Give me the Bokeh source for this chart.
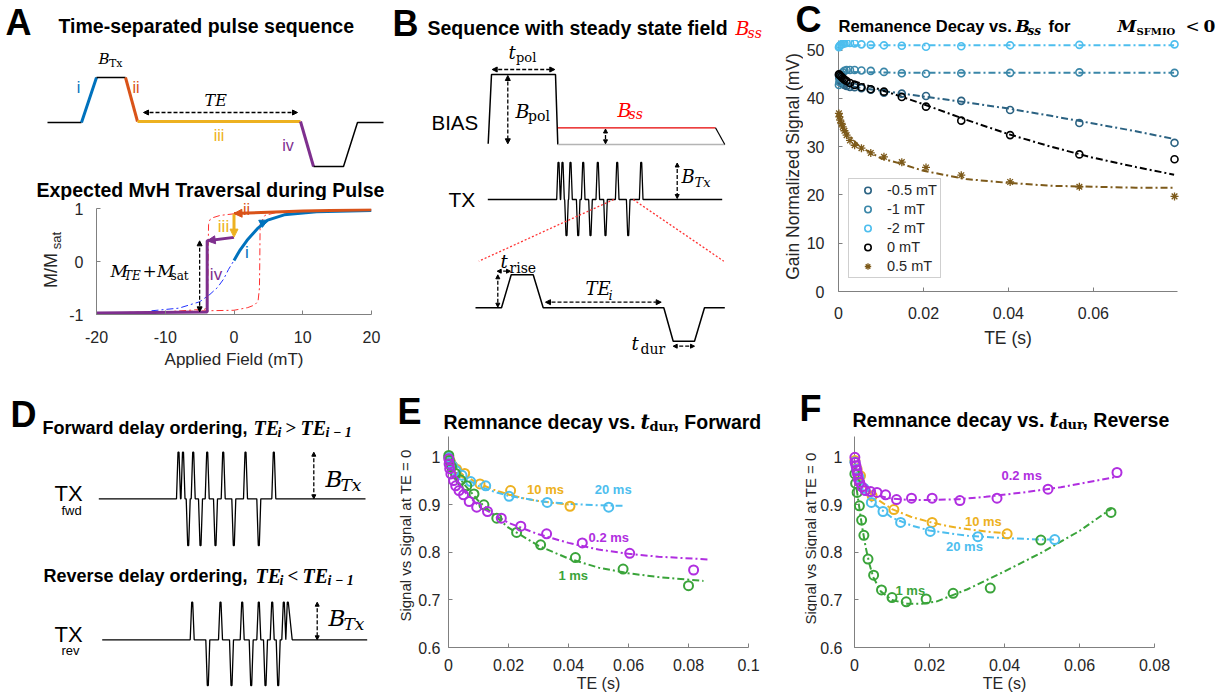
import math
from bokeh.plotting import figure
from bokeh.models import (Range1d, Label, Arrow, NormalHead, FixedTicker,
                          CustomJSTickFormatter, Legend, LegendItem)
from bokeh.layouts import row, column
from bokeh.embed import file_html
from bokeh.resources import INLINE
from bokeh.core.properties import value

SANS = "Liberation Sans"
SERIF = "DejaVu Serif"
TSERIF = "Liberation Serif"

# ---------------- data: panel A (MvH traversal) ----------------
loop_h = [-20, -10, -4, 0, 2, 3, 3.5, 3.7, 3.75, 3.8, 4.5, 6, 10, 20,
          10, 2, 0, -2, -3, -3.5, -3.7, -3.75, -3.8, -3.85, -4.2, -10, -20]
loop_m = [-0.97, -0.95, -0.93, -0.92, -0.87, -0.82, -0.75, -0.5, 0.0, 0.7, 0.87, 0.92, 0.95, 0.97,
          0.95, 0.91, 0.90, 0.87, 0.83, 0.79, 0.7, 0.3, -0.3, -0.8, -0.9, -0.95, -0.97]
anh_h = [-12, -8, -5, -3.5, -2.4, -1.5, -0.8, 0]
anh_m = [-0.93, -0.88, -0.76, -0.62, -0.49, -0.33, -0.15, 0.02]
seg_i_h = [0, 0.8, 1.9, 3.4, 4.9, 7.3, 12, 20]
seg_i_m = [0.02, 0.2, 0.4, 0.62, 0.78, 0.88, 0.94, 0.96]
seg_ii_h = [20, 10, 5, 2, 0]
seg_ii_m = [0.975, 0.955, 0.93, 0.915, 0.905]
seg_iii_h = [0, 0]
seg_iii_m = [0.9, 0.46]
seg_iv_h = [0, -3.9, -3.9, -20]
seg_iv_m = [0.455, 0.39, -0.955, -0.97]

# ---------------- data: panel C ----------------
te_c = [0.0001, 0.0002, 0.0004, 0.0007, 0.001, 0.0014, 0.0019, 0.0027, 0.0038,
        0.0054, 0.0076, 0.0107, 0.0149, 0.0206, 0.0289, 0.0404, 0.0567, 0.0791]
c_m05 = [44.8, 44.2, 43.7, 43.3, 43.0, 42.8, 42.6, 42.4, 42.3, 42.1, 41.8, 41.2, 41.0, 40.5, 39.5, 37.6, 34.9, 30.8]
c_m1 = [42.8, 43.4, 44.2, 44.9, 45.4, 45.7, 45.9, 45.9, 45.9, 45.8, 45.7, 45.5, 45.2, 45.1, 45.2, 45.3, 45.4, 45.3]
c_m2 = [50.6, 50.8, 51.0, 51.2, 51.3, 51.4, 51.5, 51.5, 51.4, 51.2, 51.1, 51.0, 50.9, 50.7, 50.8, 51.0, 51.1, 51.2]
c_0 = [45.0, 44.9, 44.7, 44.5, 44.2, 43.9, 43.6, 43.2, 42.8, 42.3, 41.9, 41.4, 40.3, 38.3, 35.4, 32.4, 28.4, 27.4]
c_p05 = [36.9, 36.2, 35.5, 34.8, 34.1, 33.3, 32.4, 31.3, 30.3, 29.7, 28.7, 27.9, 26.8, 25.7, 24.1, 22.7, 21.7, 19.7]
c_labels = ["-0.5 mT", "-1 mT", "-2 mT", "0 mT", "0.5 mT"]
fit_c_x = [0, 0.002, 0.005, 0.01, 0.015, 0.02, 0.03, 0.04, 0.05, 0.06, 0.07, 0.079]
fit_c_m05 = [42.8, 42.6, 42.2, 41.6, 41.0, 40.4, 39.2, 37.9, 36.4, 34.8, 33.2, 31.6]
fit_c_m1 = [45.5, 45.5, 45.4, 45.4, 45.3, 45.3, 45.3, 45.3, 45.3, 45.3, 45.3, 45.3]
fit_c_m2 = [51.0, 51.0, 51.0, 51.0, 51.0, 51.0, 51.0, 51.0, 51.0, 51.0, 51.0, 51.0]
fit_c_0 = [44.4, 43.9, 43.2, 41.8, 40.3, 38.8, 35.6, 32.6, 30.0, 27.7, 25.8, 24.2]
fit_c_p05 = [36.5, 32.8, 30.0, 27.6, 26.4, 25.0, 23.3, 22.5, 21.9, 21.7, 21.5, 21.5]

# ---------------- data: panel E (forward) ----------------
e10_x = [0.0001, 0.0003, 0.0007, 0.0014, 0.0027, 0.0054, 0.0105, 0.0207, 0.0405]
e10_y = [1.0, 0.995, 0.99, 0.982, 0.975, 0.966, 0.944, 0.930, 0.897]
e20_x = [0.0001, 0.0005, 0.0013, 0.0025, 0.0045, 0.0074, 0.0124, 0.0202, 0.0329, 0.0534]
e20_y = [1.0, 0.99, 0.982, 0.972, 0.962, 0.949, 0.940, 0.918, 0.905, 0.895]
e1_x = [0.0001, 0.0003, 0.001, 0.0023, 0.0041, 0.0061, 0.0085, 0.0118, 0.0161, 0.0227, 0.0307, 0.0423, 0.0582, 0.0800]
e1_y = [1.004, 0.993, 0.98, 0.966, 0.952, 0.940, 0.923, 0.900, 0.872, 0.842, 0.816, 0.789, 0.765, 0.730]
e02_x = [0.0001, 0.0002, 0.0004, 0.0008, 0.0017, 0.0024, 0.0035, 0.0050, 0.0069, 0.0094, 0.0130, 0.0176,
         0.0241, 0.0327, 0.0446, 0.0604, 0.0817]
e02_y = [0.997, 0.986, 0.976, 0.965, 0.951, 0.940, 0.930, 0.921, 0.907, 0.895, 0.886, 0.872,
         0.855, 0.839, 0.820, 0.798, 0.763]
efit10_x = [0, 0.002, 0.005, 0.01, 0.015, 0.02, 0.025, 0.03, 0.035, 0.041]
efit10_y = [0.995, 0.978, 0.962, 0.945, 0.932, 0.922, 0.914, 0.908, 0.904, 0.900]
efit20_x = [0, 0.002, 0.005, 0.01, 0.015, 0.02, 0.03, 0.04, 0.05, 0.058]
efit20_y = [0.995, 0.975, 0.958, 0.940, 0.928, 0.919, 0.908, 0.902, 0.899, 0.898]
efit1_x = [0, 0.002, 0.005, 0.01, 0.02, 0.03, 0.04, 0.05, 0.06, 0.07, 0.085]
efit1_y = [0.995, 0.972, 0.945, 0.908, 0.852, 0.814, 0.787, 0.768, 0.756, 0.748, 0.740]
efit02_x = [0, 0.002, 0.005, 0.01, 0.02, 0.03, 0.04, 0.05, 0.06, 0.07, 0.087]
efit02_y = [0.99, 0.955, 0.93, 0.898, 0.862, 0.838, 0.820, 0.806, 0.797, 0.791, 0.785]

# ---------------- data: panel F (reverse) ----------------
f02_x = [0.0001, 0.0002, 0.0004, 0.0006, 0.0008, 0.001, 0.0014, 0.002, 0.0029, 0.0043, 0.006, 0.0083,
         0.0112, 0.0152, 0.0207, 0.0281, 0.038, 0.0516, 0.070]
f02_y = [1.0, 0.989, 0.982, 0.973, 0.965, 0.954, 0.947, 0.938, 0.930, 0.928, 0.926, 0.921,
         0.911, 0.914, 0.914, 0.909, 0.914, 0.933, 0.968]
f10_x = [0.0001, 0.0007, 0.0016, 0.0047, 0.0105, 0.0207, 0.0407]
f10_y = [0.993, 0.975, 0.961, 0.919, 0.890, 0.863, 0.839]
f20_x = [0.0001, 0.0005, 0.0012, 0.0025, 0.0045, 0.0076, 0.0123, 0.0202, 0.0329, 0.0534]
f20_y = [0.99, 0.975, 0.958, 0.935, 0.905, 0.886, 0.863, 0.844, 0.833, 0.827]
f1_x = [0.0001, 0.0003, 0.0007, 0.0013, 0.0019, 0.0025, 0.0036, 0.0051, 0.0072, 0.0100, 0.0138, 0.0191,
        0.0263, 0.0362, 0.0497, 0.0684]
f1_y = [0.965, 0.945, 0.926, 0.898, 0.868, 0.836, 0.786, 0.752, 0.721, 0.705, 0.696, 0.702,
        0.714, 0.725, 0.826, 0.884]
ffit02_x = [0, 0.001, 0.002, 0.004, 0.007, 0.01, 0.015, 0.02, 0.028, 0.035, 0.045, 0.055, 0.07]
ffit02_y = [0.99, 0.955, 0.94, 0.928, 0.918, 0.913, 0.910, 0.910, 0.912, 0.917, 0.926, 0.937, 0.959]
ffit10_x = [0, 0.002, 0.005, 0.01, 0.015, 0.02, 0.025, 0.03, 0.035, 0.0405]
ffit10_y = [0.985, 0.945, 0.917, 0.891, 0.875, 0.864, 0.855, 0.849, 0.844, 0.840]
ffit20_x = [0, 0.002, 0.005, 0.01, 0.015, 0.02, 0.03, 0.04, 0.05, 0.0535]
ffit20_y = [0.985, 0.935, 0.903, 0.873, 0.857, 0.846, 0.835, 0.830, 0.827, 0.827]
ffit1_x = [0, 0.001, 0.002, 0.003, 0.004, 0.005, 0.007, 0.01, 0.014, 0.018, 0.022, 0.03, 0.04, 0.05, 0.06, 0.0685]
ffit1_y = [0.965, 0.91, 0.855, 0.81, 0.775, 0.748, 0.718, 0.700, 0.692, 0.692, 0.697, 0.722, 0.760, 0.800, 0.845, 0.892]

# ---------------- colours ----------------
BLUE, ORANGE, YELLOW, PURPLE = "#0072BD", "#D95319", "#EDB120", "#7E2F8E"
LBLUE, GREEN, MAG = "#4DBEEE", "#3aa43a", "#b02ee0"
C_COL = ["#2b6282", "#3a86a8", "#4DBEEE", "#000000", "#7d5a1a"]
AXC, TXC = "#808080", "#262626"
DASHDOT = "7 3 2 3"


def lab(p, x, y, s, size, color="black", font=SANS, style="normal", align="left", angle=0.0):
    p.add_layout(Label(x=x, y=y, text=s, text_font=font, text_font_size=f"{size}px",
                       text_font_style=style, text_color=color, text_align=align,
                       text_baseline="middle", angle=angle))


def arrow(p, x0, y0, x1, y1, both=True, dash="4 2", width=1.3, color="black", size=5):
    hd = lambda: NormalHead(size=size, fill_color=color, line_color=color, line_width=1)
    p.add_layout(Arrow(x_start=x0, y_start=y0, x_end=x1, y_end=y1,
                       start=hd() if both else None, end=hd(),
                       line_color=color, line_width=width, line_dash=dash))


def schem(ox, oy, w, h):
    """text / sketch canvas whose coordinates are page pixels"""
    p = figure(width=w, height=h, x_range=Range1d(ox, ox + w), y_range=Range1d(oy + h, oy),
               min_border=0, x_axis_location=None, y_axis_location=None, title=None,
               frame_align=False, outline_line_color=None, output_backend="svg",
               toolbar_location=None)
    p.grid.visible = False
    return p


class DF:
    def __init__(self, ox, oy, w, h, l, t, r, b, xr, yr, xticks, yticks, xstand, ystand,
                 xlabel, xlsize, xlstand):
        self.ox, self.oy, self.l, self.t, self.r, self.b, self.xr, self.yr = ox, oy, l, t, r, b, xr, yr
        p = figure(width=w, height=h, x_range=Range1d(*xr), y_range=Range1d(*yr), title=None,
                   min_border_left=l, min_border_top=t, min_border_right=w - r, min_border_bottom=h - b,
                   frame_align=False, outline_line_color=None, output_backend="svg",
                   toolbar_location=None)
        p.grid.visible = False
        fmt = "return (Math.round(tick*1e6)/1e6).toString();"
        p.xaxis.ticker = FixedTicker(ticks=xticks)
        p.yaxis.ticker = FixedTicker(ticks=yticks)
        for ax in (p.xaxis[0], p.yaxis[0]):
            ax.formatter = CustomJSTickFormatter(code=fmt)
            ax.axis_line_color = AXC
            ax.major_tick_line_color = AXC
            ax.major_tick_in = 4
            ax.major_tick_out = 0
            ax.minor_tick_line_color = None
            ax.major_label_text_font = SANS
            ax.major_label_text_font_size = "16px"
            ax.major_label_text_color = TXC
        p.xaxis[0].major_label_standoff = xstand
        p.yaxis[0].major_label_standoff = ystand
        xa = p.xaxis[0]
        xa.axis_label = xlabel
        xa.axis_label_text_font = SANS
        xa.axis_label_text_font_style = "normal"
        xa.axis_label_text_font_size = f"{xlsize}px"
        xa.axis_label_text_color = TXC
        xa.axis_label_standoff = xlstand
        self.p = p

    def d(self, rx, ry):
        x0, x1 = self.xr
        y0, y1 = self.yr
        x = x0 + (rx - self.ox - self.l) / (self.r - self.l) * (x1 - x0)
        y = y0 + (self.oy + self.b - ry) / (self.b - self.t) * (y1 - y0)
        return x, y

    def lab(self, rx, ry, s, size, **kw):
        x, y = self.d(rx, ry)
        lab(self.p, x, y, s, size, **kw)


def pulses(x0, x1, base, events):
    xs, ys = [x0], [base]
    for (xc, yt, hl, hr) in events:
        xs += [xc - hl, xc - 0.5, xc + 0.5, xc + hr]
        ys += [base, yt, yt, base]
    xs.append(x1)
    ys.append(base)
    return xs, ys


# =============== Panel A top (schematic + title of the MvH plot) ===============
pa = schem(0, 0, 393, 200)
lab(pa, 5, 22, "A", 36, style="bold")
lab(pa, 58, 25, "Time-separated pulse sequence", 19.5, style="bold")
pa.line([47, 81], [122, 122], color="black", line_width=1.5)
pa.line([81, 96], [122, 77], color=BLUE, line_width=3)
pa.line([96, 125], [77, 77], color="black", line_width=1.5)
pa.line([125, 137], [77, 121], color=ORANGE, line_width=3)
pa.line([137, 300], [121, 121], color=YELLOW, line_width=3)
pa.line([300, 313], [121, 166], color=PURPLE, line_width=3)
pa.line([313, 343, 357, 383], [166, 166, 122, 122], color="black", line_width=1.5)
arrow(pa, 143, 112, 297, 112)
lab(pa, 98, 58, "B", 15, font=SERIF, style="italic")
lab(pa, 108.5, 63, "Tx", 11, font=SERIF)
lab(pa, 204, 100, "TE", 16, font=SERIF, style="italic")
lab(pa, 78, 87, "i", 16, color=BLUE, align="center")
lab(pa, 135.5, 87, "ii", 16, color=ORANGE, align="center")
lab(pa, 218.5, 135, "iii", 16, color=YELLOW, align="center")
lab(pa, 287.5, 145, "iv", 16, color=PURPLE, align="center")
lab(pa, 36, 189, "Expected MvH Traversal during Pulse", 19.5, style="bold")

# y label of the MvH plot
pay = schem(0, 200, 64, 175)
lab(pay, 50, 270, "M/M", 18, color=TXC, align="center", angle=math.pi / 2)
lab(pay, 56, 240, "sat", 13, color=TXC, align="center", angle=math.pi / 2)

# =============== Panel A bottom (MvH) ===============
A = DF(64, 200, 329, 175, 32, 8, 307, 114, (-20, 20), (-1, 1),
       [-20, -10, 0, 10, 20], [-1, 0, 1], 16, 13, "Applied Field (mT)", 17, 4)
pb = A.p
pb.line(loop_h, loop_m, color="#ff3030", line_width=1, line_dash=DASHDOT)
pb.line(anh_h, anh_m, color="#2030ff", line_width=1, line_dash=DASHDOT)
pb.line(seg_i_h, seg_i_m, color=BLUE, line_width=3)
pb.line(seg_ii_h, seg_ii_m, color=ORANGE, line_width=3)
pb.line(seg_iv_h, seg_iv_m, color=PURPLE, line_width=3)
arrow(pb, seg_iii_h[0], seg_iii_m[0], seg_iii_h[1], seg_iii_m[1], both=False, dash="solid",
      width=3, color=YELLOW, size=8)
arrow(pb, 4.3, 0.74, 4.9, 0.78, both=False, dash="solid", width=0.1, color=BLUE, size=8)
arrow(pb, 0.6, 0.908, 0.0, 0.905, both=False, dash="solid", width=0.1, color=ORANGE, size=8)
arrow(pb, -3.3, 0.40, -3.9, 0.39, both=False, dash="solid", width=0.1, color=PURPLE, size=8)
arrow(pb, -5.0, -0.95, -5.0, 0.39)
A.lab(110, 270, "M", 17, font=SERIF, style="italic")
A.lab(123.5, 275, "TE", 12, font=SERIF, style="italic")
A.lab(142, 270, "+", 17, font=SERIF)
A.lab(156.5, 270, "M", 17, font=SERIF, style="italic")
A.lab(170, 275, "sat", 12, font=SERIF)
A.lab(246.5, 252, "i", 17, color=BLUE, align="center")
A.lab(223, 226, "iii", 17, color=YELLOW, align="center")
A.lab(215.5, 273.5, "iv", 17, color=PURPLE, align="center")
iix, iiy = A.d(246, 209)
pb.text(x=[iix], y=[iiy], text=["ii"], text_font=value(SANS), text_font_size="16px",
        text_color=ORANGE, text_align="center", text_baseline="middle", level="overlay")

# =============== Panel D (schematic) ===============
pdd = schem(0, 375, 393, 323)
lab(pdd, 10, 414, "D", 36, style="bold")
lab(pdd, 42, 427, "Forward delay ordering,", 18, style="bold")
lab(pdd, 253, 427, "TE", 20, font=TSERIF, style="bold italic")
lab(pdd, 277, 432, "i", 14, font=TSERIF, style="bold italic")
lab(pdd, 285, 427, ">", 19, font=TSERIF, style="bold")
lab(pdd, 300, 427, "TE", 20, font=TSERIF, style="bold italic")
lab(pdd, 325, 432, "i − 1", 14, font=TSERIF, style="bold italic")
fwd_pos = [178, 182.5, 192.7, 206.7, 222.7, 245, 273.3]
fwd_neg = [187.7, 200, 215, 233.3, 258.3]
ev = sorted([(x, 451.7, 2.0, 2.0) for x in fwd_pos] + [(x, 545, 2.0, 2.0) for x in fwd_neg])
xs, ys = pulses(98.3, 365, 498.3, ev)
pdd.line(xs, ys, color="black", line_width=1.3)
arrow(pdd, 313.3, 451.7, 313.3, 498.3, size=4)
lab(pdd, 325, 478.5, "B", 23, font=SERIF, style="italic")
lab(pdd, 340, 484, "Tx", 17, font=SERIF, style="italic")
lab(pdd, 54, 493, "TX", 22)
lab(pdd, 61, 510, "fwd", 13)
lab(pdd, 43, 575, "Reverse delay ordering,", 18, style="bold")
lab(pdd, 255, 575, "TE", 20, font=TSERIF, style="bold italic")
lab(pdd, 279, 580, "i", 14, font=TSERIF, style="bold italic")
lab(pdd, 287, 575, "<", 19, font=TSERIF, style="bold")
lab(pdd, 302, 575, "TE", 20, font=TSERIF, style="bold italic")
lab(pdd, 327, 580, "i − 1", 14, font=TSERIF, style="bold italic")
rev_pos = [191.7, 220, 241.7, 258.3, 271.7, 283.3, 287.3]
rev_neg = [207.3, 231, 250.7, 265, 277.7]
ev = sorted([(x, 601.7, 2.0, 2.0) for x in rev_pos[:-1]] + [(rev_pos[-1], 601.7, 2.0, 4.4)]
            + [(x, 685, 2.0, 2.0) for x in rev_neg])
xs, ys = pulses(101.7, 366.7, 639.3, ev)
pdd.line(xs, ys, color="black", line_width=1.3)
arrow(pdd, 316.7, 601.7, 316.7, 639.3, size=4)
lab(pdd, 328, 617.5, "B", 23, font=SERIF, style="italic")
lab(pdd, 343, 623, "Tx", 17, font=SERIF, style="italic")
lab(pdd, 54, 634, "TX", 22)
lab(pdd, 61, 650, "rev", 13)

# =============== Panel B (schematic, plus title of E) ===============
pB = schem(393, 0, 377, 436)
lab(pB, 392, 23, "B", 36, style="bold")
lab(pB, 427, 27, "Sequence with steady state field", 19.5, style="bold")
lab(pB, 735, 27, "B", 19, font=SERIF, style="italic", color="#ff0000")
lab(pB, 747, 32, "ss", 14, font=SERIF, style="italic", color="#ff0000")
pB.line([487.7, 491, 555, 557.3], [143.3, 74, 74, 144], color="black", line_width=1.5)
pB.line([557.3, 724.3], [144, 144], color="#b4b4b4", line_width=1.5)
pB.line([557.3, 715], [127.3, 127.3], color="#e60000", line_width=1.2)
pB.line([715, 724.3], [127.3, 144], color="black", line_width=1.2)
arrow(pB, 491.7, 69, 554.3, 69)
arrow(pB, 507.3, 75, 507.3, 143.3)
arrow(pB, 605, 128.5, 605, 143.3, size=4)
lab(pB, 508, 52, "t", 18, font=SERIF, style="italic")
lab(pB, 515.5, 57, "pol", 13, font=SERIF)
lab(pB, 515, 110, "B", 19, font=SERIF, style="italic")
lab(pB, 527.5, 115, "pol", 14, font=SERIF)
lab(pB, 617, 109, "B", 19, font=SERIF, style="italic", color="#ff0000")
lab(pB, 628, 113.5, "ss", 14, font=SERIF, style="italic", color="#ff0000")
lab(pB, 431, 121.7, "BIAS", 20.5)
lab(pB, 448, 199, "TX", 21)
tx_pos = [558, 562, 570, 582.7, 597.3, 616.7, 640.7]
tx_neg = [566, 577.7, 590, 605, 627.7]
ev = sorted([(x, 162, 1.8, 1.8) for x in tx_pos] + [(x, 235, 1.8, 1.8) for x in tx_neg])
xs, ys = pulses(487.3, 721.7, 199, ev)
pB.line(xs, ys, color="black", line_width=1.3)
arrow(pB, 676.7, 162.5, 676.7, 198, size=4)
lab(pB, 681, 176, "B", 18, font=SERIF, style="italic")
lab(pB, 694, 182, "Tx", 13, font=SERIF, style="italic")
pB.line([613.3, 478.3], [199, 260.7], color="#ff3333", line_width=1.3, line_dash="2 2")
pB.line([632.7, 723.3], [199, 260.7], color="#ff3333", line_width=1.3, line_dash="2 2")
pB.line([475, 501, 510.7, 532.7, 542.7, 663.3, 672.7, 694, 704, 724.3],
        [307.3, 307.3, 274.3, 274.3, 307.3, 307.3, 340.7, 340.7, 307.3, 307.3],
        color="black", line_width=1.5)
arrow(pB, 496.7, 270.7, 510, 270.7, size=4)
arrow(pB, 497.3, 274.3, 497.3, 306.7, size=4)
arrow(pB, 545, 301.7, 660.7, 301.7)
arrow(pB, 672.7, 345.7, 694, 345.7, size=4)
lab(pB, 500, 261, "t", 18, font=SERIF, style="italic")
lab(pB, 509, 267, "rise", 14, font=SERIF)
lab(pB, 585, 287.5, "TE", 18, font=SERIF, style="italic")
lab(pB, 608, 295, "i", 13, font=SERIF, style="italic")
lab(pB, 631, 343, "t", 18, font=SERIF, style="italic")
lab(pB, 640, 348, "dur", 14, font=SERIF)
# title of E
lab(pB, 397, 410.5, "E", 36, style="bold")
lab(pB, 443, 421, "Remnance decay vs.", 19.5, style="bold")
lab(pB, 640, 421, "t", 20, font=SERIF, style="bold italic")
lab(pB, 649, 426, "dur", 13, font=SERIF, style="bold")
lab(pB, 673, 421, ", Forward", 19.5, style="bold")

# =============== Panel E ===============
pey = schem(393, 436, 22, 262)
lab(pey, 405, 535, "Signal vs Signal at TE = 0", 15, color=TXC, align="center", angle=math.pi / 2)
E = DF(415, 436, 355, 262, 33, 0, 333, 211, (0, 0.1), (0.6, 1.0437),
       [0, 0.02, 0.04, 0.06, 0.08, 0.1], [0.6, 0.7, 0.8, 0.9, 1.0], 11, 8, "TE (s)", 16, 1)
pe = E.p
for fx, fy, sx, sy, col in [(efit10_x, efit10_y, e10_x, e10_y, YELLOW),
                            (efit20_x, efit20_y, e20_x, e20_y, LBLUE),
                            (efit1_x, efit1_y, e1_x, e1_y, GREEN),
                            (efit02_x, efit02_y, e02_x, e02_y, MAG)]:
    pe.line(fx, fy, color=col, line_width=2, line_dash=DASHDOT)
    pe.scatter(sx, sy, marker="circle", size=9, fill_color=None, line_color=col, line_width=2,
               level="overlay")
E.lab(545, 489.3, "10 ms", 13, color=YELLOW, style="bold", align="center")
E.lab(612.7, 489.3, "20 ms", 13, color=LBLUE, style="bold", align="center")
E.lab(608.3, 537.3, "0.2 ms", 13, color=MAG, style="bold", align="center")
E.lab(572.7, 575, "1 ms", 13, color=GREEN, style="bold", align="center")

# =============== Panel C ===============
pct = schem(770, 0, 454, 40)
lab(pct, 795, 19, "C", 36, style="bold")
lab(pct, 838, 25, "Remanence Decay vs.", 16.5, style="bold")
lab(pct, 1015, 25, "B", 17, font=SERIF, style="bold italic")
lab(pct, 1027, 30, "ss", 12, font=SERIF, style="bold italic")
lab(pct, 1048, 25, "for", 16.5, style="bold")
lab(pct, 1117, 25, "M", 17, font=SERIF, style="bold italic")
lab(pct, 1136, 31, "SFMIO", 10, font=SERIF, style="bold")
lab(pct, 1185, 25, "<", 17, font=SERIF)
lab(pct, 1203, 25, "0", 17, font=SERIF, style="bold")
pcy = schem(770, 40, 33, 310)
lab(pcy, 792, 166, "Gain Normalized Signal (mV)", 17.5, color=TXC, align="center", angle=math.pi / 2)
C = DF(803, 40, 421, 310, 35, 0, 374, 251, (0, 0.0798), (0, 52),
       [0, 0.02, 0.04, 0.06], [0, 10, 20, 30, 40, 50], 15, 14, "TE (s)", 17.5, 6)
pc = C.p
items = []
for fy, sy, col, name in [(fit_c_m05, c_m05, C_COL[0], c_labels[0]),
                          (fit_c_m1, c_m1, C_COL[1], c_labels[1]),
                          (fit_c_m2, c_m2, C_COL[2], c_labels[2]),
                          (fit_c_0, c_0, C_COL[3], c_labels[3]),
                          (fit_c_p05, c_p05, C_COL[4], c_labels[4])]:
    pc.line(fit_c_x, fy, color=col, line_width=2, line_dash=DASHDOT)
    if name == "0.5 mT":
        r = pc.scatter(te_c, sy, marker="asterisk", size=8, line_color=col, line_width=1.3,
                       level="overlay")
    else:
        r = pc.scatter(te_c, sy, marker="circle", size=7, fill_color=None, line_color=col,
                       line_width=1.6, level="overlay")
    items.append(LegendItem(label=name, renderers=[r]))
leg = Legend(items=items, location=(10, 13), padding=3, spacing=3, glyph_width=31, glyph_height=16,
             label_height=16, label_standoff=4, label_text_font=SANS, label_text_font_size="14.5px",
             label_text_color=TXC, border_line_color="#a0a0a0", margin=0, background_fill_alpha=1)
pc.add_layout(leg)

# =============== Panel F ===============
pft = schem(770, 350, 454, 86)
lab(pft, 799, 408, "F", 36, style="bold")
lab(pft, 852, 419, "Remnance decay vs.", 19.5, style="bold")
lab(pft, 1049, 419, "t", 20, font=SERIF, style="bold italic")
lab(pft, 1058, 424, "dur", 13, font=SERIF, style="bold")
lab(pft, 1082, 419, ", Reverse", 19.5, style="bold")
pfy = schem(770, 436, 47, 262)
lab(pfy, 809.5, 538, "Signal vs Signal at TE = 0", 15, color=TXC, align="center", angle=math.pi / 2)
F = DF(817, 436, 407, 262, 36, 0, 337, 211, (0, 0.08), (0.6, 1.0437),
       [0, 0.02, 0.04, 0.06, 0.08], [0.6, 0.7, 0.8, 0.9, 1.0], 11, 12, "TE (s)", 16, 1)
pf = F.p
for fx, fy, sx, sy, col in [(ffit10_x, ffit10_y, f10_x, f10_y, YELLOW),
                            (ffit20_x, ffit20_y, f20_x, f20_y, LBLUE),
                            (ffit1_x, ffit1_y, f1_x, f1_y, GREEN),
                            (ffit02_x, ffit02_y, f02_x, f02_y, MAG)]:
    pf.line(fx, fy, color=col, line_width=2, line_dash=DASHDOT)
    pf.scatter(sx, sy, marker="circle", size=9, fill_color=None, line_color=col, line_width=2,
               level="overlay")
F.lab(1020.7, 475, "0.2 ms", 13, color=MAG, style="bold", align="center")
F.lab(982.3, 520.7, "10 ms", 13, color=YELLOW, style="bold", align="center")
F.lab(963.3, 546, "20 ms", 13, color=LBLUE, style="bold", align="center")
F.lab(909, 590, "1 ms", 13, color=GREEN, style="bold", align="center")

layout = row(column(pa, row(pay, pb), pdd),
             column(pB, row(pey, pe)),
             column(pct, row(pcy, pc), pft, row(pfy, pf)))
open("out.html", "w").write(file_html(layout, INLINE))
